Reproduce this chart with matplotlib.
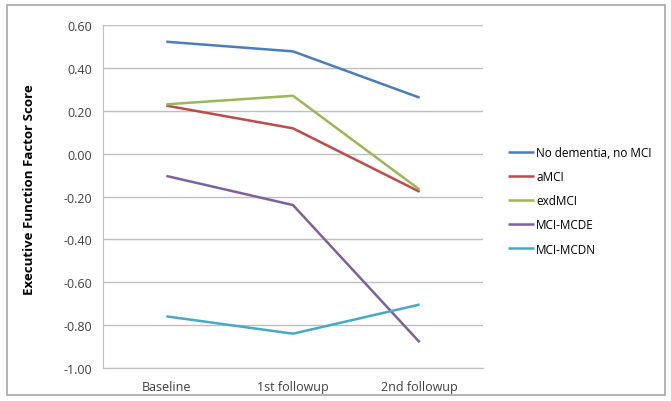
import matplotlib
matplotlib.use('Agg')
import matplotlib.pyplot as plt
from matplotlib.patches import Rectangle

# Data
visits = ['Baseline', '1st followup', '2nd followup']
no_dementia = [0.522, 0.477, 0.261]
amci = [0.224, 0.118, -0.178]
exdmci = [0.230, 0.270, -0.168]
mci_mcde = [-0.104, -0.240, -0.880]
mci_mcdn = [-0.759, -0.840, -0.704]

series = [
    ('No dementia, no MCI', no_dementia, '#4A7EBB'),
    ('aMCI', amci, '#BE4B48'),
    ('exdMCI', exdmci, '#98B954'),
    ('MCI-MCDE', mci_mcde, '#7D60A0'),
    ('MCI-MCDN', mci_mcdn, '#46AAC5'),
]

plt.rcParams['font.family'] = ['Open Sans', 'DejaVu Sans']

fig = plt.figure(figsize=(6.71, 4.02), dpi=100)
ax = fig.add_axes([0.1535, 0.0821, 0.5663, 0.8532])

x = range(len(visits))
for name, vals, color in series:
    ax.plot(x, vals, color=color, linewidth=1.8, label=name, solid_capstyle='butt')

ax.set_xlim(-0.5, 2.5)
ax.set_ylim(-1.0, 0.6)
ax.set_yticks([0.6, 0.4, 0.2, 0.0, -0.2, -0.4, -0.6, -0.8, -1.0])
ax.set_yticklabels(['%.2f' % v for v in ax.get_yticks()], fontsize=9, color='#404040')
ax.set_xticks(list(x))
ax.set_xticklabels(visits, fontsize=9, color='#404040')
ax.tick_params(axis='both', length=0, pad=8)
ax.tick_params(axis='x', pad=9)

ax.grid(axis='y', color='#BFBFBF', linewidth=1)
ax.set_axisbelow(True)
for side in ['top', 'right']:
    ax.spines[side].set_visible(False)
ax.spines['left'].set_color('#BFBFBF')
ax.spines['bottom'].set_color('#BFBFBF')

ax.set_ylabel('Executive Function Factor Score', fontsize=9.5, fontweight='bold')
ax.yaxis.set_label_coords(-0.176, 0.523)

ax.legend(loc='center left', bbox_to_anchor=(1.037, 0.488), frameon=False, fontsize=8.5,
          handlelength=2.2, handletextpad=0.2, labelspacing=0.95)

# outer chart border
fig.patches.append(Rectangle((7 / 671, 6 / 402), 658 / 671, 390 / 402,
                             transform=fig.transFigure, fill=False,
                             edgecolor='#A6A6A6', linewidth=1.2))

fig.savefig('out.png', dpi=100)
